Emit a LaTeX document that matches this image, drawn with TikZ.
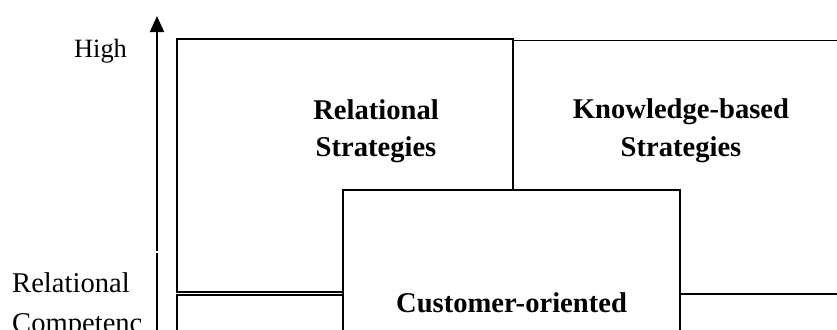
\documentclass[tikz,border=0pt]{standalone}
\usepackage{fontspec}
\setmainfont{Liberation Serif}
\usetikzlibrary{arrows.meta}
\tikzset{
  box/.style={draw=black,line width=1.7bp},
  cbox/.style={draw=black,fill=white,line width=1.7bp},
  lbl/.style={inner sep=0pt,anchor=base,font=\bfseries\fontsize{28.7}{34}\selectfont},
  axlbl/.style={inner sep=0pt,font=\fontsize{28.7}{34}\selectfont},
  axis/.style={line width=1.7bp}
}
\begin{document}
\begin{tikzpicture}[x=1bp,y=-1bp]
\useasboundingbox (0,0) rectangle (837,329);
\clip (0,0) rectangle (837,329);
% boxes
\draw[box] (177,39) rectangle (513,292.3);
\draw[box] (513,40.5) rectangle (860,294);
\draw[box] (177,294.7) rectangle (513,400);
\draw[box] (513,294) rectangle (860,400);
\draw[cbox] (343,190) rectangle (680,400);
% axis
\coordinate (ab) at (157,340);
\coordinate (am) at (157,252.5);
\coordinate (am2) at (157,250.5);
\coordinate (at) at (157,16);
\draw[axis] (ab) -- (am);
\draw[axis,-{Triangle[length=16bp,width=14bp]}] (am2) -- (at);
% labels
\node[axlbl,anchor=base,font=\fontsize{26.5}{32}\selectfont] (high) at (100.5,57) {High};
\node[axlbl,anchor=base west] (rc1) at (12,292) {Relational};
\node[axlbl,anchor=base west] (rc2) at (12,332) {Competenc};
\node[lbl] (rs1) at (376,119) {Relational};
\node[lbl] (rs2) at (376,156) {Strategies};
\node[lbl] (kb1) at (681,118) {Knowledge-based};
\node[lbl] (kb2) at (681,156) {Strategies};
\node[lbl] (co) at (511.5,312) {Customer-oriented};
\end{tikzpicture}
\end{document}
